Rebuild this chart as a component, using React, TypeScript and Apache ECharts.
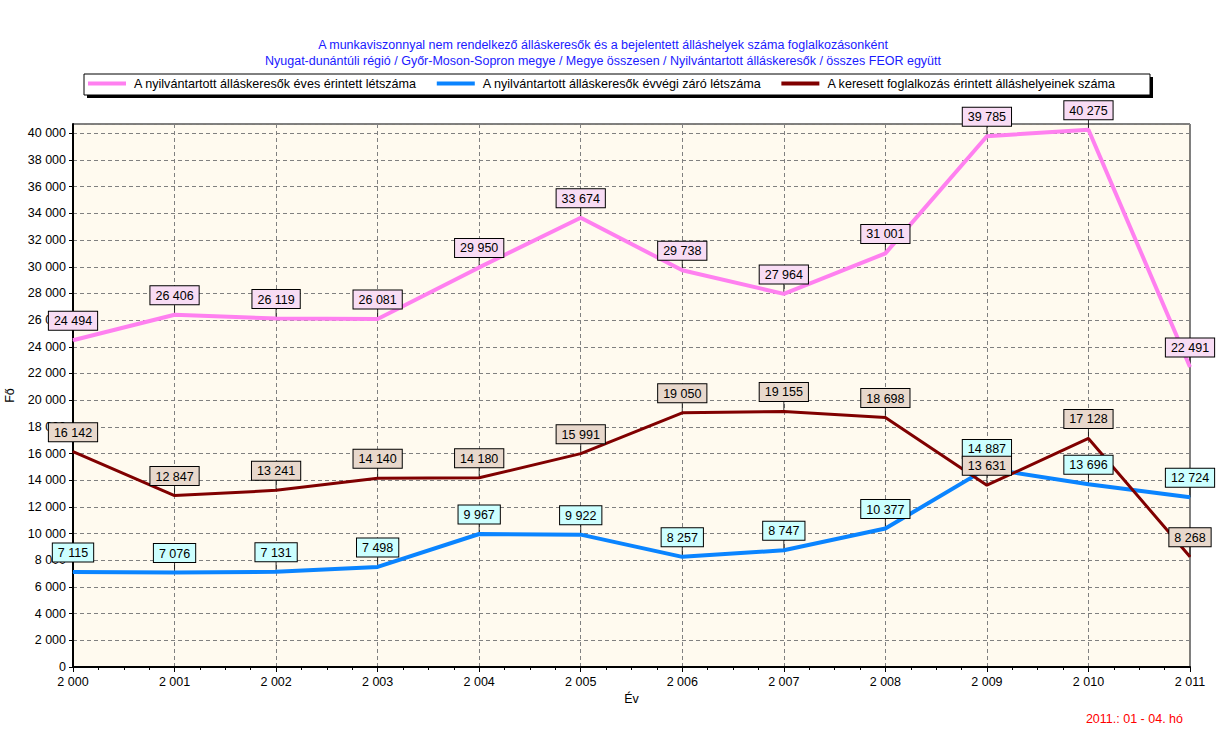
import React, { useEffect, useRef } from "react";
import * as echarts from "echarts";

const years = [2000, 2001, 2002, 2003, 2004, 2005, 2006, 2007, 2008, 2009, 2010, 2011];
const evesErintett = [24494, 26406, 26119, 26081, 29950, 33674, 29738, 27964, 31001, 39785, 40275, 22491];
const evvegiZaro = [7115, 7076, 7131, 7498, 9967, 9922, 8257, 8747, 10377, 14887, 13696, 12724];
const allashelyek = [16142, 12847, 13241, 14140, 14180, 15991, 19050, 19155, 18698, 13631, 17128, 8268];

const seriesNames = [
  "A nyilvántartott álláskeresők éves érintett létszáma",
  "A nyilvántartott álláskeresők évvégi záró létszáma",
  "A keresett foglalkozás érintett álláshelyeinek száma",
];
const titleLines = [
  "A munkaviszonnyal nem rendelkező álláskeresők és a bejelentett álláshelyek száma foglalkozásonként",
  "Nyugat-dunántúli régió / Győr-Moson-Sopron megye / Megye összesen / Nyilvántartott álláskeresők / összes FEOR együtt",
];
const noteText = "2011.: 01 - 04. hó";

const fmt = (v: number) => {
  const s = String(Math.round(v));
  return s.replace(/\B(?=(\d{3})+(?!\d))/g, " ");
};

const FONT = "Liberation Sans, Arial, sans-serif";

export default function App() {
  const ref = useRef<HTMLDivElement>(null);
  useEffect(() => {
    if (!ref.current) return;
    const chart = echarts.init(ref.current, null, { renderer: "svg" });
    const sets = [
      { name: seriesNames[0], data: evesErintett, color: "#ff80f0", bg: "#f8dcf4", width: 4 },
      { name: seriesNames[1], data: evvegiZaro, color: "#0a84ff", bg: "#ccffff", width: 4 },
      { name: seriesNames[2], data: allashelyek, color: "#800000", bg: "#e8d8cc", width: 3 },
    ];
    const series: any[] = [];
    sets.forEach((s, i) => {
      series.push({
        type: "scatter",
        name: "lead" + i,
        data: years.map((y, k) => [y, s.data[k]]),
        symbol: "rect",
        symbolSize: [1, 10],
        symbolOffset: [0, -5],
        itemStyle: { color: "#000" },
        z: 3,
        silent: true,
      });
    });
    sets.forEach((s) => {
      series.push({
        type: "line",
        name: s.name,
        data: years.map((y, k) => [y, s.data[k]]),
        symbol: "circle",
        symbolSize: 1,
        showSymbol: true,
        lineStyle: { color: s.color, width: s.width },
        itemStyle: { color: s.color },
        z: 4,
        label: {
          show: true,
          position: "top",
          distance: 10,
          formatter: (p: any) => fmt(p.value[1]),
          backgroundColor: s.bg,
          borderColor: "#000",
          borderWidth: 1,
          padding: [3, 5, 2, 5],
          color: "#000",
          fontSize: 12.5,
          fontFamily: FONT,
        },
        labelLayout: { hideOverlap: false },
      });
    });

    chart.setOption({
      animation: false,
      backgroundColor: "#ffffff",
      title: [
        {
          text: titleLines[0] + "\n" + titleLines[1],
          left: 598,
          top: 32,
          textAlign: "center",
          textStyle: { color: "#1a1aff", fontSize: 12.5, fontWeight: "normal", fontFamily: FONT, lineHeight: 16 },
        },
      ],
      graphic: [
        { type: "rect", shape: { x: 87, y: 77, width: 1066, height: 21 }, style: { fill: "#000" }, z: 0 },
        { type: "rect", shape: { x: 84, y: 74, width: 1066, height: 21 }, style: { fill: "#fff", stroke: "#000", lineWidth: 1 }, z: 1 },
        {
          type: "text",
          x: 1183,
          y: 712,
          style: { text: noteText, fill: "#ff0000", fontSize: 12.5, fontFamily: FONT, textAlign: "right" },
        },
      ],
      legend: {
        data: seriesNames,
        left: 88,
        top: 77,
        icon: "rect",
        itemWidth: 38,
        itemHeight: 4,
        itemGap: 20,
        padding: 0,
        z: 5,
        textStyle: { fontSize: 12.6, fontFamily: FONT, color: "#000", padding: [0, 0, 0, 3] },
      },
      grid: {
        left: 73,
        right: 34,
        top: 124,
        bottom: 86,
        containLabel: false,
        outerBoundsMode: "none",
        show: true,
        backgroundColor: "#fffaef",
        borderColor: "#000",
        borderWidth: 1,
      },
      xAxis: {
        type: "value",
        min: 2000,
        max: 2011,
        interval: 1,
        name: "Év",
        nameLocation: "middle",
        nameGap: 22,
        nameTextStyle: { fontSize: 12.5, fontFamily: FONT, color: "#000" },
        axisLine: { show: true, lineStyle: { color: "#000", width: 2 } },
        axisTick: { show: true, length: 5, lineStyle: { color: "#000" } },
        minorTick: { show: true, splitNumber: 4, length: 3, lineStyle: { color: "#000" } },
        axisLabel: { formatter: (v: number) => fmt(v), fontSize: 12.5, fontFamily: FONT, color: "#000", margin: 8 },
        splitLine: { show: true, lineStyle: { color: "#808080", type: [4, 3], width: 1 } },
      },
      yAxis: {
        type: "value",
        min: 0,
        max: 40700,
        interval: 2000,
        name: "Fő",
        nameLocation: "middle",
        nameGap: 52,
        nameRotate: 90,
        nameTextStyle: { fontSize: 12.5, fontFamily: FONT, color: "#000" },
        axisLine: { show: true, lineStyle: { color: "#000", width: 2 } },
        axisTick: { show: true, length: 4, lineStyle: { color: "#000" } },
        axisLabel: {
          formatter: (v: number) => fmt(v),
          fontSize: 12.5,
          fontFamily: FONT,
          color: "#000",
          margin: 7,
          showMaxLabel: false,
        },
        splitLine: { show: true, lineStyle: { color: "#808080", type: [4, 3], width: 1 } },
      },
      series,
    });
    return () => chart.dispose();
  }, []);
  return <div ref={ref} style={{ position: "fixed", left: 0, top: 0, width: 1224, height: 753 }} />;
}
